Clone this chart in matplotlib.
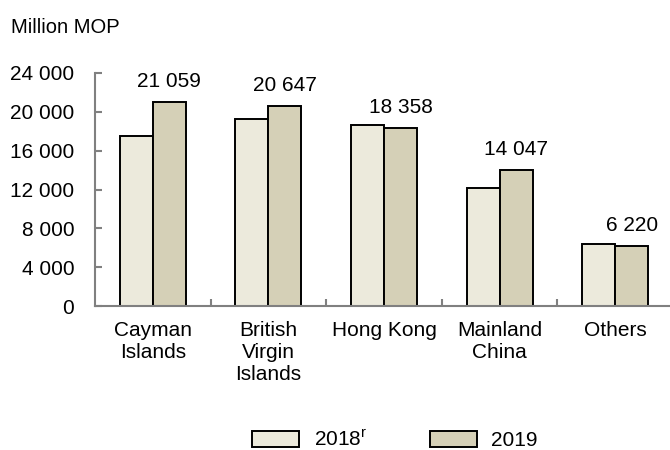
import numpy as np
import matplotlib
matplotlib.use('Agg')
import matplotlib.pyplot as plt
from matplotlib.patches import Patch

plt.rcParams['font.family'] = ['Liberation Sans', 'DejaVu Sans']

# Data (million MOP)
categories = ['Cayman\nIslands', 'British\nVirgin\nIslands', 'Hong Kong', 'Mainland\nChina', 'Others']
values_2018 = [17550, 19250, 18650, 12200, 6400]
values_2019 = [21059, 20647, 18358, 14047, 6220]
labels_2019 = ['21 059', '20 647', '18 358', '14 047', '6 220']
yticks = [0, 4000, 8000, 12000, 16000, 20000, 24000]
ytick_labels = ['0', '4 000', '8 000', '12 000', '16 000', '20 000', '24 000']

c2018 = '#ECEADC'
c2019 = '#D5D0B7'
grey = '#808080'
fs = 15

fig = plt.figure(figsize=(6.7, 4.5), dpi=100)
ax = fig.add_axes([95 / 670, 144 / 450, 578 / 670, 233 / 450])

x = np.arange(len(categories))
w = 0.285
ax.bar(x - w / 2, values_2018, w, color=c2018, edgecolor='black', linewidth=1.4)
ax.bar(x + w / 2, values_2019, w, color=c2019, edgecolor='black', linewidth=1.4)

for xi, v, lab in zip(x, values_2019, labels_2019):
    ax.text(xi + w / 2, v + 1550, lab, ha='center', va='baseline', fontsize=fs)

ax.set_xlim(-0.5, len(categories) - 0.5)
ax.set_ylim(0, 24000)
ax.set_yticks(yticks)
ax.set_yticklabels(ytick_labels, fontsize=fs)
ax.set_xticks(x)
ax.set_xticklabels(categories, fontsize=fs, linespacing=1.2)
ax.set_xticks(x[:-1] + 0.5, minor=True)

ax.tick_params(axis='x', which='major', length=0, pad=11)
ax.tick_params(axis='x', which='minor', direction='in', length=5, width=1.5, color=grey)
ax.tick_params(axis='y', direction='in', length=5, width=1.5, color=grey, pad=15)

for s in ['top', 'right']:
    ax.spines[s].set_visible(False)
for s in ['left', 'bottom']:
    ax.spines[s].set_color(grey)
    ax.spines[s].set_linewidth(1.5)

fig.text(11 / 670, 1 - 33 / 450, 'Million MOP', fontsize=14.5, va='baseline', ha='left')

handles = [Patch(facecolor=c2018, edgecolor='black', linewidth=1.4),
           Patch(facecolor=c2019, edgecolor='black', linewidth=1.4)]
fig.legend(handles, ['2018$^\\mathregular{r}$', '2019'], ncol=2, loc='center',
           bbox_to_anchor=(395 / 670, 1 - 440 / 450), frameon=False, fontsize=fs,
           handlelength=2.25, handleheight=0.8, handletextpad=0.7, columnspacing=3.0,
           borderpad=0.2)

fig.savefig('out.png', dpi=100)
